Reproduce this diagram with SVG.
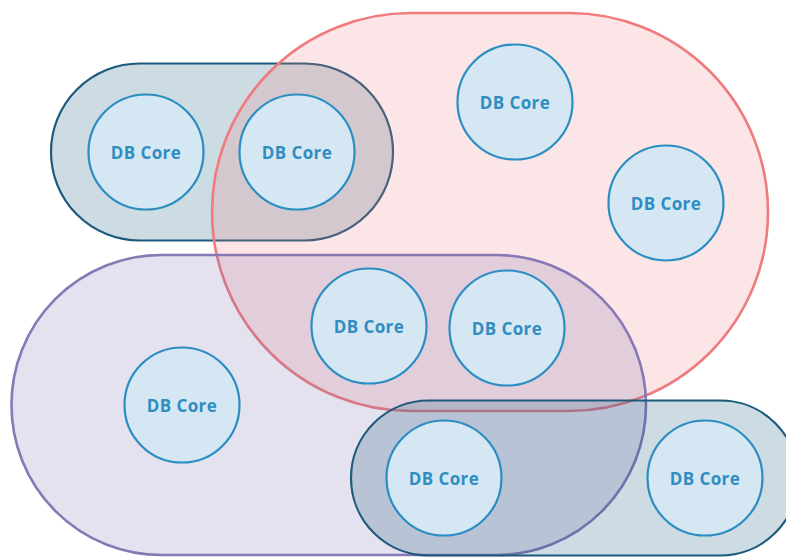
<svg xmlns="http://www.w3.org/2000/svg" width="786" height="559" viewBox="0 0 786 559">
<style>
.teal{fill:rgba(29,92,126,0.22);stroke:#1d5a7c;stroke-width:2.2}
.red{fill:rgba(239,125,128,0.2);stroke:#ef7b7e;stroke-width:2.6}
.purple{fill:rgba(125,112,176,0.2);stroke:#8679b6;stroke-width:2.6}
.core circle{fill:#d4e7f3;stroke:#2b8dc2;stroke-width:2.2}
.core text{font-family:"Open Sans","Liberation Sans",sans-serif;font-weight:700;font-size:17px;letter-spacing:0.4px;fill:#2f8dc2;text-anchor:middle}
</style>
<rect width="786" height="559" fill="#ffffff"/>
<g id="groups">
<rect id="group-teal-top" class="teal" x="51" y="63.5" width="342" height="177" rx="88.5"/>
<rect id="group-red" class="red" x="212" y="13" width="556" height="398" rx="199"/>
<rect id="group-purple" class="purple" x="11.5" y="255" width="634.5" height="300" rx="150"/>
<rect id="group-teal-bottom" class="teal" x="351" y="400.5" width="447" height="155" rx="77.5"/>
</g>
<g id="connectors"></g>
<g id="core1" class="core"><circle cx="146" cy="152" r="57.5"/><text x="146" y="158.5">DB Core</text></g>
<g id="core2" class="core"><circle cx="297" cy="152" r="57.5"/><text x="297" y="158.5">DB Core</text></g>
<g id="core3" class="core"><circle cx="515" cy="102" r="57.5"/><text x="515" y="108.5">DB Core</text></g>
<g id="core4" class="core"><circle cx="666" cy="203" r="57.5"/><text x="666" y="209.5">DB Core</text></g>
<g id="core5" class="core"><circle cx="369" cy="326" r="57.5"/><text x="369" y="332.5">DB Core</text></g>
<g id="core6" class="core"><circle cx="507" cy="328" r="57.5"/><text x="507" y="334.5">DB Core</text></g>
<g id="core7" class="core"><circle cx="182" cy="405" r="57.5"/><text x="182" y="411.5">DB Core</text></g>
<g id="core8" class="core"><circle cx="444" cy="478" r="57.5"/><text x="444" y="484.5">DB Core</text></g>
<g id="core9" class="core"><circle cx="705" cy="478" r="57.5"/><text x="705" y="484.5">DB Core</text></g>
</svg>
